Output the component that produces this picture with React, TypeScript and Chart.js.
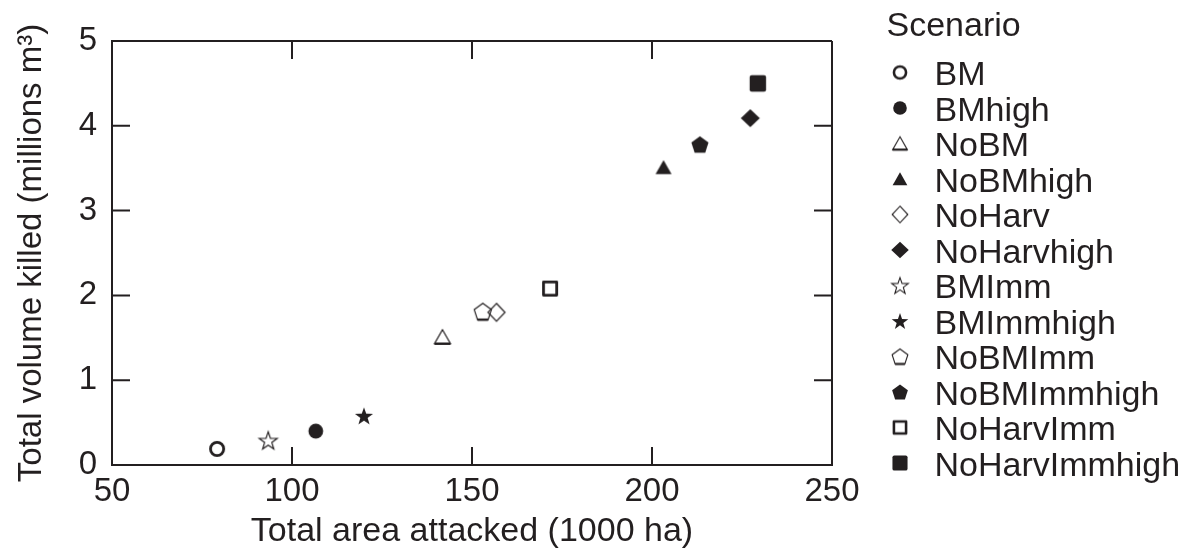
import React, { useEffect, useRef } from "react";
import { Chart, registerables } from "chart.js";

Chart.register(...registerables);

// ---------- data ----------
const scenarios = [
  "BM", "BMhigh", "NoBM", "NoBMhigh", "NoHarv", "NoHarvhigh",
  "BMImm", "BMImmhigh", "NoBMImm", "NoBMImmhigh", "NoHarvImm", "NoHarvImmhigh",
];
const areaAttacked = [79.2, 106.6, 141.8, 203.2, 156.8, 227.3, 93.4, 120.0, 153.0, 213.3, 171.7, 229.4];
const volumeKilled = [0.19, 0.40, 1.51, 3.51, 1.80, 4.09, 0.29, 0.58, 1.81, 3.78, 2.08, 4.50];
const markerShapes = [
  "circle", "circle", "triangle", "triangle", "diamond", "diamond",
  "star", "star", "pentagon", "pentagon", "square", "square",
];
const markerFilled = [false, true, false, true, false, true, false, true, false, true, false, true];
const xTickValues = [50, 100, 150, 200, 250];
const yTickValues = [0, 1, 2, 3, 4, 5];
const xTitle = "Total area attacked (1000 ha)";
const yTitle = "Total volume killed (millions m³)";
const legendTitle = "Scenario";

// ---------- style ----------
const INK = "#231f20";
const FONT = "'Liberation Sans', Arial, Helvetica, sans-serif";
const TICK_FONT = 33;
const TITLE_FONT = 34;
const YTITLE_FONT = 33;
const LEGEND_FONT = 34;

function makeMarker(shape: string, filled: boolean, scale = 1): HTMLCanvasElement {
  const s = 30;
  const c = document.createElement("canvas");
  c.width = s;
  c.height = s;
  const g = c.getContext("2d")!;
  g.translate(s / 2, s / 2);
  g.scale(scale, scale);
  g.strokeStyle = INK;
  g.fillStyle = INK;
  const poly = (pts: number[][]) => {
    g.beginPath();
    pts.forEach(([x, y], i) => (i ? g.lineTo(x, y) : g.moveTo(x, y)));
    g.closePath();
  };
  switch (shape) {
    case "circle":
      g.beginPath();
      if (filled) {
        g.arc(0, 0, 7.4, 0, Math.PI * 2);
        g.fill();
      } else {
        g.arc(0, 0, 6.6, 0, Math.PI * 2);
        g.lineWidth = 2.8;
        g.stroke();
      }
      break;
    case "triangle": {
      const pts = [[0, -7.3], [8, 6.7], [-8, 6.7]];
      poly(pts);
      if (filled) g.fill();
      else {
        g.lineWidth = 1.2;
        g.stroke();
        g.beginPath();
        g.moveTo(-8, 6.7);
        g.lineTo(8, 6.7);
        g.lineWidth = 2.4;
        g.stroke();
      }
      break;
    }
    case "diamond": {
      const w = filled ? 9.5 : 8.5;
      poly([[0, -9], [w, 0], [0, 9], [-w, 0]]);
      if (filled) g.fill();
      else {
        g.lineWidth = 1.2;
        g.stroke();
      }
      break;
    }
    case "star": {
      const R = 9.5, r = 3.8, dy = 0.9;
      const pts: number[][] = [];
      for (let k = 0; k < 10; k++) {
        const a = -Math.PI / 2 + (k * Math.PI) / 5;
        const rr = k % 2 === 0 ? R : r;
        pts.push([rr * Math.cos(a), rr * Math.sin(a) + dy]);
      }
      poly(pts);
      if (filled) g.fill();
      else {
        g.lineWidth = 1.2;
        g.stroke();
      }
      break;
    }
    case "pentagon": {
      const R = 9, dy = 0.86;
      const pts: number[][] = [];
      for (let k = 0; k < 5; k++) {
        const a = -Math.PI / 2 + (k * 2 * Math.PI) / 5;
        pts.push([R * Math.cos(a), R * Math.sin(a) + dy]);
      }
      poly(pts);
      if (filled) g.fill();
      else {
        g.lineWidth = 1.2;
        g.stroke();
        g.beginPath();
        g.moveTo(pts[3][0], pts[3][1]);
        g.lineTo(pts[2][0], pts[2][1]);
        g.lineWidth = 2.4;
        g.stroke();
      }
      break;
    }
    case "square":
      g.lineJoin = "round";
      if (filled) {
        g.beginPath();
        (g as any).roundRect ? (g as any).roundRect(-8.2, -8.2, 16.4, 16.4, 2) : g.rect(-8.2, -8.2, 16.4, 16.4);
        g.fill();
      } else {
        g.lineWidth = 2.8;
        g.beginPath();
        g.rect(-6.6, -6.6, 13.2, 13.2);
        g.stroke();
      }
      break;
  }
  return c;
}

const TICK_LEN = 18;

const framePlugin = {
  id: "frameTicks",
  beforeDatasetsDraw(chart: any) {
    const { ctx, chartArea } = chart;
    const { left, right, top, bottom } = chartArea;
    const xs = chart.scales.x;
    const ys = chart.scales.y;
    ctx.save();
    ctx.strokeStyle = INK;
    ctx.lineWidth = 2;
    ctx.lineCap = "butt";
    ctx.beginPath();
    ctx.moveTo(left, top);
    ctx.lineTo(right, top);
    ctx.moveTo(right, top);
    ctx.lineTo(right, bottom);
    for (const t of xs.ticks) {
      const px = xs.getPixelForValue(t.value);
      ctx.moveTo(px, bottom);
      ctx.lineTo(px, bottom - TICK_LEN);
      ctx.moveTo(px, top);
      ctx.lineTo(px, top + TICK_LEN);
    }
    for (const t of ys.ticks) {
      const py = ys.getPixelForValue(t.value);
      ctx.moveTo(left, py);
      ctx.lineTo(left + TICK_LEN, py);
      ctx.moveTo(right, py);
      ctx.lineTo(right - TICK_LEN, py);
    }
    ctx.stroke();
    ctx.restore();
  },
};

const LEGEND_X_MARK = 900;
const LEGEND_X_TEXT = 934.5;
const LEGEND_Y0 = 72.5;
const LEGEND_STEP = 35.5;

const legendPlugin = {
  id: "scenarioLegend",
  afterDraw(chart: any) {
    const { ctx } = chart;
    ctx.save();
    ctx.fillStyle = INK;
    ctx.font = `${LEGEND_FONT}px ${FONT}`;
    ctx.textAlign = "left";
    ctx.textBaseline = "alphabetic";
    ctx.fillText(legendTitle, 886.5, 35.5);
    chart.data.datasets.forEach((ds: any, i: number) => {
      const cy = LEGEND_Y0 + i * LEGEND_STEP;
      const img = ds.legendMarker as HTMLCanvasElement;
      ctx.drawImage(img, LEGEND_X_MARK - img.width / 2, cy - img.height / 2);
      ctx.fillText(ds.label, LEGEND_X_TEXT, cy + 12.5);
    });
    ctx.restore();
  },
};

export default function App() {
  const canvasRef = useRef<HTMLCanvasElement | null>(null);

  useEffect(() => {
    const canvas = canvasRef.current;
    if (!canvas) return;
    const datasets = scenarios.map((name, i) => ({
      label: name,
      data: [{ x: areaAttacked[i], y: volumeKilled[i] }],
      pointStyle: makeMarker(markerShapes[i], markerFilled[i]) as any,
      legendMarker: makeMarker(markerShapes[i], markerFilled[i], 0.92),
      pointRadius: 8,
      showLine: false,
    }));
    const chart = new Chart(canvas, {
      type: "scatter",
      data: { datasets: datasets as any },
      options: {
        animation: false,
        responsive: false,
        layout: { padding: { left: 0, top: 41, right: 362, bottom: 0 } },
        plugins: {
          legend: { display: false },
          tooltip: { enabled: false },
        },
        scales: {
          x: {
            type: "linear",
            min: xTickValues[0],
            max: xTickValues[xTickValues.length - 1],
            afterBuildTicks: (scale: any) => {
              scale.ticks = xTickValues.map((v) => ({ value: v }));
            },
            afterFit: (scale: any) => {
              scale.height = 92;
            },
            ticks: {
              color: INK,
              font: { family: FONT, size: TICK_FONT },
              padding: 7,
              maxRotation: 0,
            },
            grid: { display: false, drawTicks: false },
            border: { display: true, color: INK, width: 2 },
            title: {
              display: true,
              text: xTitle,
              color: INK,
              font: { family: FONT, size: TITLE_FONT },
              padding: { top: 0, bottom: 5 },
            },
          },
          y: {
            type: "linear",
            min: yTickValues[0],
            max: yTickValues[yTickValues.length - 1],
            afterBuildTicks: (scale: any) => {
              scale.ticks = yTickValues.map((v) => ({ value: v }));
            },
            afterFit: (scale: any) => {
              scale.width = 112;
            },
            ticks: {
              color: INK,
              font: { family: FONT, size: TICK_FONT },
              padding: 15,
            },
            grid: { display: false, drawTicks: false },
            border: { display: true, color: INK, width: 2 },
            title: {
              display: true,
              text: yTitle,
              color: INK,
              font: { family: FONT, size: YTITLE_FONT },
              padding: { top: 12, bottom: 0 },
            },
          },
        },
      },
      plugins: [framePlugin, legendPlugin],
    });
    return () => chart.destroy();
  }, []);

  return (
    <div style={{ position: "absolute", left: 0, top: 0, width: 1194, height: 557, background: "#fff" }}>
      <canvas ref={canvasRef} width={1194} height={557} style={{ display: "block" }} />
    </div>
  );
}
